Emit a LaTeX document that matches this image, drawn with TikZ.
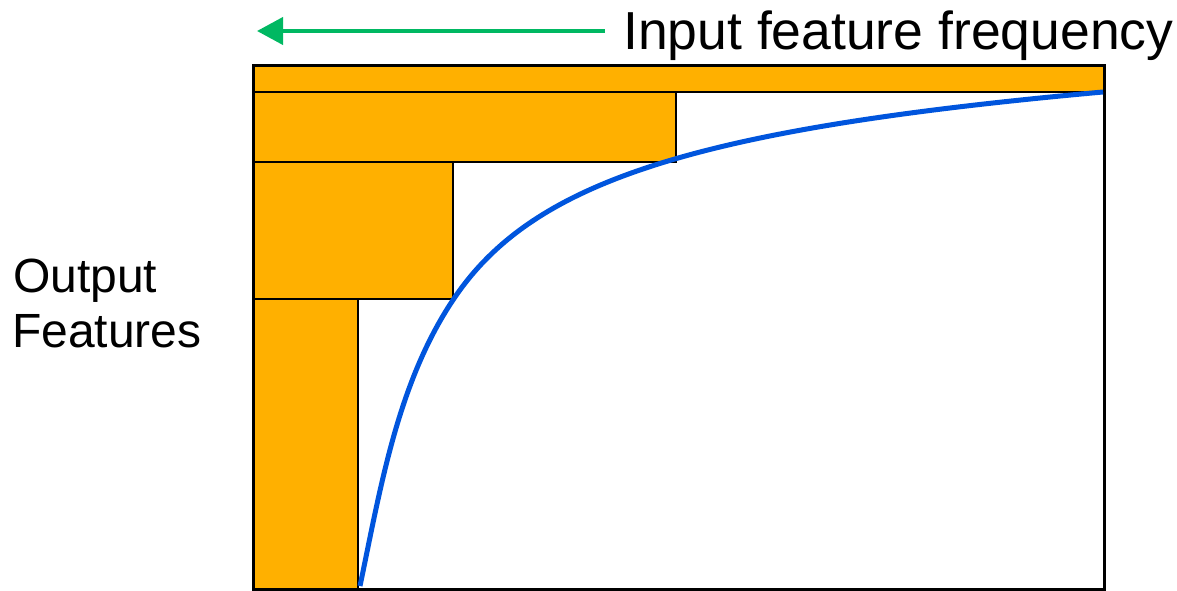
\documentclass[tikz,border=0pt]{standalone}
\usepackage{fontspec}
\setmainfont{Liberation Sans}
\usetikzlibrary{arrows.meta}
\definecolor{barorange}{RGB}{255,176,0}
\definecolor{curveblue}{RGB}{0,85,221}
\definecolor{arrowgreen}{RGB}{0,184,98}
\begin{document}
\begin{tikzpicture}[x=1pt,y=-1pt,
  bar/.style={fill=barorange,draw=black,line width=2.5pt},
  frame/.style={fill=white,draw=black,line width=3pt},
  lbl/.style={inner sep=0pt,anchor=base west},
  curve/.style={draw=curveblue,line width=5pt},
  garrow/.style={draw=arrowgreen,line width=4pt,-{Triangle[length=26pt,width=27pt]}}]
\useasboundingbox (0,0) rectangle (1177,591);
% frame and bars
\draw[frame] (253,66) rectangle (1104,589);
\draw[bar] (253,299) rectangle (358,589);
\draw[bar] (253,162) rectangle (453,299);
\draw[bar] (253,92) rectangle (676,162);
\draw[bar] (253,66) rectangle (1104,92);
\draw[black,line width=3pt] (253,66) rectangle (1104,589);
% curve
\coordinate (cstart) at (360,586);
\coordinate (cmid) at (453,300);
\coordinate (cend) at (1103,92);
\draw[curve] (cstart) .. controls (380.5,488) and (397.5,383) .. (cmid)
  .. controls (532,181) and (694,129) .. (cend);
% arrow
\coordinate (astart) at (605,31);
\coordinate (aend) at (257,31);
\draw[garrow] (astart) -- (aend);
% labels
\node[lbl,font=\fontsize{53.5}{60}\selectfont] (title) at (623,50) {Input feature frequency};
\node[lbl,font=\fontsize{48}{55}\selectfont] (out1) at (13,292) {Output};
\node[lbl,font=\fontsize{48}{55}\selectfont] (out2) at (12,347) {Features};
\end{tikzpicture}
\end{document}
